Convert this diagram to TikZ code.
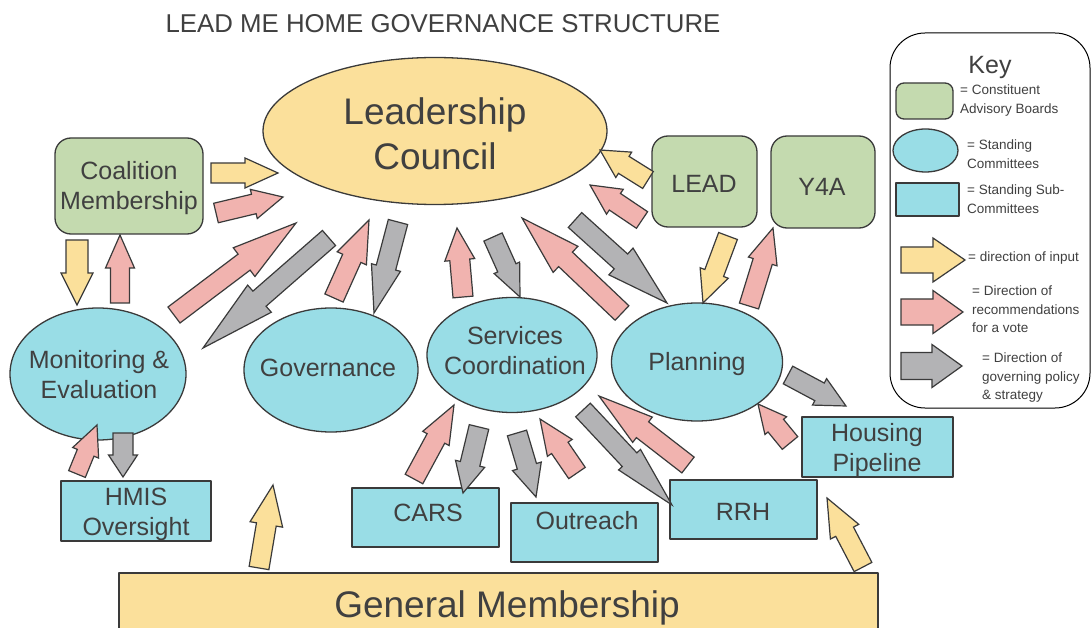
\documentclass[tikz,border=0pt]{standalone}
\usepackage{fontspec}
\setmainfont{Liberation Sans}
\usetikzlibrary{shapes.geometric}
\definecolor{yel}{HTML}{FBE09B}
\definecolor{grn}{HTML}{C4DAAF}
\definecolor{blu}{HTML}{99DDE6}
\definecolor{pnk}{HTML}{F1B3AF}
\definecolor{gry}{HTML}{B3B3B5}
\definecolor{lineC}{HTML}{3A3A3A}
\definecolor{textC}{HTML}{404040}
\newcommand{\barrow}[8]{%
  \pgfmathsetmacro\baAng{atan2(#3-#5,#4-#2)}%
  \pgfmathsetmacro\baLen{veclen(#4-#2,#5-#3)}%
  \pgfmathsetmacro\baNeck{\baLen-#8}%
  \pgfmathsetmacro\baS{#6/2}%
  \pgfmathsetmacro\baH{#7/2}%
  \draw[arr, fill=#1, shift={(#2,#3)}, rotate=\baAng]
    (0pt,\baS pt) -- (\baNeck pt,\baS pt) -- (\baNeck pt,\baH pt) -- (\baLen pt,0pt)
    -- (\baNeck pt,-\baH pt) -- (\baNeck pt,-\baS pt) -- (0pt,-\baS pt) -- cycle;
}
\tikzset{
  shp/.style={draw=lineC, line width=1.3pt, line join=round},
  ell/.style={shp, ellipse, fill=blu, inner sep=0pt},
  cab/.style={shp, rectangle, rounded corners=16pt, fill=grn, inner sep=0pt},
  sub/.style={shp, rectangle, fill=blu, inner sep=0pt},
  lbl/.style={text=textC, align=center, inner sep=0pt, font=\fontsize{25}{30}\selectfont},
  keytxt/.style={text=textC, align=left, inner sep=0pt, anchor=north west, font=\fontsize{13.5}{18.5}\selectfont},
  arr/.style={draw=lineC, line width=1.2pt, line join=miter},
}
\begin{document}
\begin{tikzpicture}[x=1pt,y=-1pt]
\path[use as bounding box] (0,0) rectangle (1092,628);
\clip (0,0) rectangle (1092,628);
\fill[white] (0,0) rectangle (1092,628);

% title
\node[lbl, font=\fontsize{25.8}{30}\selectfont] (title) at (443,24) {LEAD ME HOME GOVERNANCE STRUCTURE};

% main shapes
\node[ell, fill=yel, minimum width=344pt, minimum height=147pt] (lc) at (435,131) {};
\node[lbl, font=\fontsize{37}{45}\selectfont] (lct) at (435,134) {Leadership\\Council};

\node[cab, minimum width=148pt, minimum height=96pt] (cm) at (129,186) {};
\node[lbl] (cmt) at (129,188) {Coalition\\Membership};

\node[ell, minimum width=176pt, minimum height=132pt] (me) at (98,374) {};
\node[lbl] (met) at (99,375) {Monitoring \&\\Evaluation};

\node[ell, minimum width=174pt, minimum height=124pt] (gov) at (331,370) {};
\node[lbl] (govt) at (328,368) {Governance};

\node[ell, minimum width=170pt, minimum height=115pt] (sc) at (512,355) {};
\node[lbl] (sct) at (515,351) {Services\\Coordination};

\node[ell, minimum width=171pt, minimum height=118pt] (pl) at (697,362) {};
\node[lbl] (plt) at (697,364) {Planning};

\node[cab, minimum width=105pt, minimum height=91pt] (lead) at (704.5,181.5) {};
\node[lbl] (leadt) at (704,184) {LEAD};

\node[cab, minimum width=104pt, minimum height=92pt] (y4a) at (823,182) {};
\node[lbl] (y4at) at (822,187) {Y4A};

\node[sub, minimum width=150pt, minimum height=60pt] (hmis) at (136,511) {};
\node[lbl] (hmist) at (136,514) {HMIS\\Oversight};

\node[sub, minimum width=147pt, minimum height=59pt] (cars) at (425.5,517.5) {};
\node[lbl] (carst) at (428,513) {CARS};

\node[sub, minimum width=147pt, minimum height=59pt] (out) at (584.5,532.5) {};
\node[lbl] (outt) at (587,521) {Outreach};

\node[sub, minimum width=147pt, minimum height=59pt] (rrh) at (743.5,509.5) {};
\node[lbl] (rrht) at (743,512) {RRH};

\node[sub, minimum width=151pt, minimum height=60pt] (hp) at (877.5,447) {};
\node[lbl] (hpt) at (877,450) {Housing\\Pipeline};

\node[shp, rectangle, fill=yel, minimum width=759pt, minimum height=90pt, inner sep=0pt] (gm) at (498.5,618) {};
\node[lbl, font=\fontsize{37}{45}\selectfont] (gmt) at (507,608) {General Membership};

% arrows: fill, tail x,y, tip x,y, shaft width, head width, head length
\barrow{yel}{211}{173}{278}{173}{20}{30}{33}
\barrow{pnk}{216}{213}{283}{197}{20}{30}{30}
\barrow{yel}{77}{240}{77}{305}{22}{32}{32}
\barrow{pnk}{120}{303}{120}{235}{19}{29}{33}
\barrow{pnk}{174}{315}{296}{223}{20}{36}{65}
\barrow{gry}{329}{238}{203}{348}{20}{36}{75}
\barrow{pnk}{334}{298}{369}{220}{20}{32}{42}
\barrow{gry}{398}{222}{374}{313}{20}{30}{47}
\barrow{pnk}{463}{297}{457}{228}{20}{30}{32}
\barrow{gry}{493}{237}{520}{297}{20}{28}{32}
\barrow{pnk}{622}{313}{522}{218}{20}{36}{60}
\barrow{gry}{575}{220}{667}{303}{20}{36}{62}
\barrow{yel}{648}{180}{600}{150}{20}{30}{28}
\barrow{pnk}{642}{220}{590}{185}{20}{30}{30}
\barrow{yel}{728}{236}{703}{303}{20}{30}{32}
\barrow{pnk}{749}{306}{773}{228}{20}{30}{35}
\barrow{pnk}{77}{474}{97}{425}{18}{28}{30}
\barrow{gry}{123}{433}{123}{477}{20}{29}{22}
\barrow{yel}{259}{568}{273}{485}{20}{33}{40}
\barrow{pnk}{414}{479}{454}{405}{20}{30}{38}
\barrow{gry}{479}{427}{463}{493}{20}{30}{30}
\barrow{gry}{517}{433}{536}{497}{20}{30}{32}
\barrow{pnk}{577}{473}{540}{419}{20}{30}{35}
\barrow{gry}{583}{410}{672}{505}{20}{30}{62}
\barrow{pnk}{688}{465}{599}{396}{20}{32}{55}
\barrow{pnk}{790}{443}{758}{404}{20}{28}{28}
\barrow{yel}{863}{567}{827}{498}{20}{32}{38}
\barrow{gry}{788}{375}{846}{406}{20}{30}{30}

% key
\node[draw=black, line width=1pt, rounded corners=35pt, minimum width=200pt, minimum height=375pt, inner sep=0pt] (key) at (990,220.5) {};
\node[lbl] (keyt) at (990,67) {Key};
\node[cab, rounded corners=8pt, minimum width=57pt, minimum height=36pt] (kcab) at (924.5,101) {};
\node[keytxt] (kcabt) at (960,85) {= Constituent\\Advisory Boards};
\node[ell, minimum width=65pt, minimum height=43pt] (kell) at (925.5,150.5) {};
\node[keytxt] (kellt) at (967,140) {= Standing\\Committees};
\node[sub, minimum width=63pt, minimum height=33pt] (ksub) at (927.5,199.5) {};
\node[keytxt] (ksubt) at (967,185) {= Standing Sub-\\Committees};
\barrow{yel}{901}{260}{965}{260}{26}{44}{32}
\node[keytxt] (kyt) at (968,252) {= direction of input};
\barrow{pnk}{901}{312}{963}{312}{26}{43}{30}
\node[keytxt] (kpt) at (972,286) {= Direction of\\recommendations\\for a vote};
\barrow{gry}{901}{366}{962}{366}{27}{43}{30}
\node[keytxt] (kgt) at (982,353) {= Direction of\\governing policy\\\& strategy};
\end{tikzpicture}
\end{document}
